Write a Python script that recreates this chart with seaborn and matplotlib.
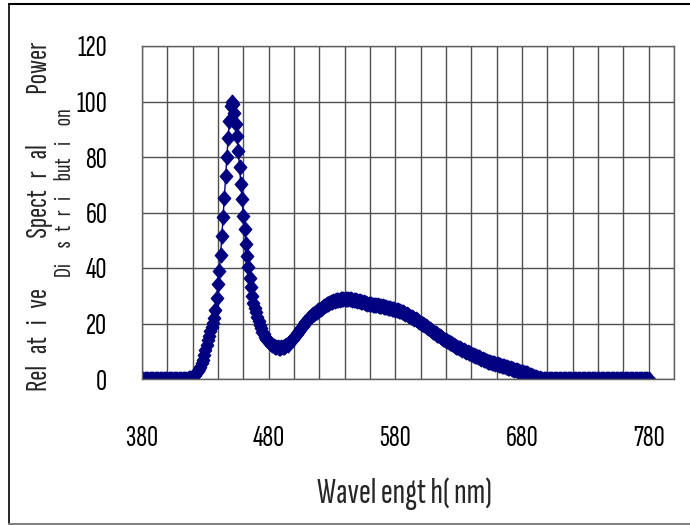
import numpy as np
import seaborn as sns
import matplotlib.pyplot as plt
from matplotlib.lines import Line2D

# wavelength grid (nm) and relative spectral power
wavelength = np.arange(380, 781)
power = [
    0, 0, 0, 0, 0, 0, 0, 0, 0, 0,                                   # 380
    0, 0, 0, 0, 0, 0, 0, 0, 0, 0,                                   # 390
    0, 0, 0, 0, 0, 0, 0, 0, 0, 0,                                   # 400
    0, 0, 0, 0, 0, 0, 0.1, 0.2, 0.3, 0.5,                           # 410
    0.7, 1.0, 1.5, 2.1, 2.8, 3.6, 4.5, 5.6, 7.0, 8.7,               # 420
    10.6, 12.2, 13.9, 15.6, 17.2, 18.7, 20.3, 22.0, 25.0, 29.3,     # 430
    34.1, 38.9, 44.6, 51.4, 58.5, 65.4, 73.0, 80.0, 87.0, 93.0,     # 440
    98.5, 100.0, 99.0, 96.0, 92.0, 87.7, 82.3, 76.3, 70.2, 64.8,    # 450
    58.8, 54.0, 48.5, 44.5, 40.5, 36.5, 33.0, 30.0, 27.5, 25.5,     # 460
    24.0, 22.3, 20.8, 19.4, 18.2, 17.1, 16.1, 15.2, 14.5, 13.9,     # 470
    13.4, 12.9, 12.5, 12.2, 11.9, 11.7, 11.5, 11.4, 11.3, 11.3,     # 480
    11.4, 11.5, 11.7, 11.9, 12.1, 12.4, 12.8, 13.2, 13.7, 14.3,     # 490
    15.0, 15.6, 16.2, 16.8, 17.4, 18.0, 18.6, 19.2, 19.8, 20.4,     # 500
    21.0, 21.5, 22.0, 22.4, 22.9, 23.3, 23.6, 24.0, 24.3, 24.7,     # 510
    25.0, 25.3, 25.7, 26.0, 26.3, 26.6, 26.9, 27.1, 27.4, 27.6,     # 520
    27.8, 28.0, 28.1, 28.3, 28.4, 28.5, 28.6, 28.7, 28.7, 28.8,     # 530
    28.8, 28.8, 28.8, 28.7, 28.7, 28.7, 28.6, 28.5, 28.4, 28.3,     # 540
    28.2, 28.1, 28.0, 27.9, 27.7, 27.6, 27.5, 27.4, 27.2, 27.1,     # 550
    27.0, 26.9, 26.8, 26.7, 26.7, 26.6, 26.5, 26.4, 26.3, 26.3,     # 560
    26.2, 26.1, 26.0, 25.8, 25.7, 25.6, 25.5, 25.4, 25.2, 25.1,     # 570
    25.0, 24.8, 24.7, 24.5, 24.4, 24.2, 24.0, 23.8, 23.5, 23.3,     # 580
    23.0, 22.8, 22.5, 22.3, 22.0, 21.8, 21.5, 21.2, 20.9, 20.6,     # 590
    20.3, 20.0, 19.7, 19.3, 19.0, 18.7, 18.4, 18.0, 17.7, 17.3,     # 600
    17.0, 16.7, 16.4, 16.0, 15.7, 15.4, 15.1, 14.8, 14.5, 14.2,     # 610
    13.9, 13.6, 13.3, 13.1, 12.8, 12.5, 12.2, 12.0, 11.7, 11.5,     # 620
    11.2, 11.0, 10.8, 10.5, 10.3, 10.1, 9.9, 9.7, 9.4, 9.2,         # 630
    9.0, 8.8, 8.6, 8.4, 8.2, 8.0, 7.8, 7.6, 7.3, 7.1,               # 640
    6.9, 6.7, 6.5, 6.3, 6.2, 6.0, 5.9, 5.8, 5.6, 5.5,               # 650
    5.4, 5.3, 5.1, 5.0, 4.8, 4.7, 4.6, 4.4, 4.3, 4.1,               # 660
    4.0, 3.9, 3.7, 3.6, 3.4, 3.3, 3.2, 3.0, 2.9, 2.7,               # 670
    2.6, 2.4, 2.3, 2.1, 2.0, 1.8, 1.6, 1.4, 1.2, 1.0,               # 680
    0.8, 0.6, 0.4, 0.3, 0.2, 0.1, 0, 0, 0, 0,                       # 690
    0, 0, 0, 0, 0, 0, 0, 0, 0, 0,                                   # 700
    0, 0, 0, 0, 0, 0, 0, 0, 0, 0,                                   # 710
    0, 0, 0, 0, 0, 0, 0, 0, 0, 0,                                   # 720
    0, 0, 0, 0, 0, 0, 0, 0, 0, 0,                                   # 730
    0, 0, 0, 0, 0, 0, 0, 0, 0, 0,                                   # 740
    0, 0, 0, 0, 0, 0, 0, 0, 0, 0,                                   # 750
    0, 0, 0, 0, 0, 0, 0, 0, 0, 0,                                   # 760
    0, 0, 0, 0, 0, 0, 0, 0, 0, 0,                                   # 770
    0,                                                              # 780
]
x_ticks = [380, 480, 580, 680, 780]
y_ticks = [0, 20, 40, 60, 80, 100, 120]

sns.set_theme(style="white")
plt.rcParams["font.family"] = ["Sofia Sans Extra Condensed", "Roboto Condensed",
                               "Liberation Sans", "DejaVu Sans"]

fig = plt.figure(figsize=(6.9, 5.25), dpi=100)
ax = fig.add_axes([142 / 690, 1 - 379 / 525, 532 / 690, 333 / 525])

diamond = [(0, 1), (0.85, 0), (0, -1), (-0.85, 0), (0, 1)]
sns.lineplot(x=wavelength, y=power, ax=ax, color="#000080", lw=1,
             marker=diamond, markersize=11, markeredgecolor="#000080",
             markerfacecolor="#000080", markeredgewidth=0.6, sort=False)

ax.set_xlim(380, 800)
ax.set_ylim(0, 120)
ax.set_xticks(x_ticks)
ax.set_xticks(range(380, 801, 20), minor=True)
ax.set_yticks(y_ticks)
ax.grid(True, which="both", color="#505050", lw=1)
ax.set_axisbelow(True)
for s in ax.spines.values():
    s.set_color("#606060")
    s.set_linewidth(1)

ax.tick_params(axis="both", which="both", length=0, labelsize=22, colors="black")
ax.tick_params(axis="x", pad=33)
ax.tick_params(axis="y", pad=25)
ax.set_xlabel("")
ax.set_ylabel("")

ax.text(-0.192, 0.488, "Rel   at   i   ve             Spect   r   al             Power",
        rotation=90, ha="center", va="center", fontsize=22, transform=ax.transAxes)
ax.text(-0.145, 0.56, "Di     s   t   r   i     but    i     on", rotation=90,
        ha="center", va="center", fontsize=18, transform=ax.transAxes)
ax.text(0.494, -0.345, "Wavel engt h( nm)", ha="center", va="center",
        fontsize=26, transform=ax.transAxes)

# chart-area frame
fig.add_artist(Line2D([9 / 690, 9 / 690], [1 / 525, 521 / 525], color="black", lw=1.2))
fig.add_artist(Line2D([9 / 690, 1.0], [521 / 525, 521 / 525], color="black", lw=1.5))
fig.add_artist(Line2D([9 / 690, 1.0], [1 / 525, 1 / 525], color="#808080", lw=1.5))

fig.savefig("out.png", dpi=100)
